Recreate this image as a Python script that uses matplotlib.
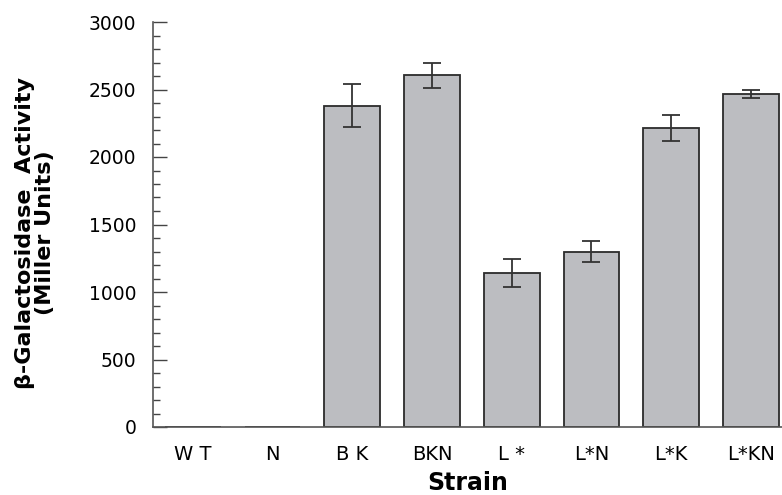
import matplotlib
matplotlib.use("Agg")
import matplotlib.pyplot as plt
from matplotlib.ticker import MultipleLocator

strains = ["W T", "N", "B K", "BKN", "L *", "L*N", "L*K", "L*KN"]
activity = [0, 0, 2380, 2605, 1140, 1300, 2215, 2465]
errors = [0, 0, 160, 95, 105, 80, 97, 28]

plt.rcParams['font.family'] = ['DejaVu Sans']

fig = plt.figure(figsize=(7.82, 4.95), dpi=100)
ax = fig.add_axes([153/782, 1 - 427/495, 1 - 153/782, (427 - 22)/495])

x = list(range(len(strains)))
ax.bar(x, activity, width=0.7, color="#bcbdc1", edgecolor="#2b2b2b", linewidth=1.3, zorder=2)
ex = [i for i, e in zip(x, errors) if e > 0]
ey = [v for v, e in zip(activity, errors) if e > 0]
ee = [e for e in errors if e > 0]
ax.errorbar(ex, ey, yerr=ee, fmt="none", ecolor="#333333", elinewidth=1.3,
            capsize=6.5, capthick=1.3, zorder=3)

ax.set_xlim(-0.5, 7.39)
ax.set_ylim(0, 3000)
ax.yaxis.set_major_locator(MultipleLocator(500))
ax.yaxis.set_minor_locator(MultipleLocator(100))
ax.set_xticks(x)
ax.set_xticklabels(strains, fontsize=14)
ax.tick_params(axis='x', length=0, pad=13)
ax.tick_params(axis='y', which='major', direction='in', length=10, width=1, labelsize=13.5, pad=12, color="#444444")
ax.tick_params(axis='y', which='minor', direction='in', length=5, width=1, color="#444444")

for s in ['top', 'right']:
    ax.spines[s].set_visible(False)
for s in ['left', 'bottom']:
    ax.spines[s].set_color("#555555")
    ax.spines[s].set_linewidth(1.2)

ax.set_xlabel("Strain", fontsize=17, fontweight='bold', labelpad=5)
fig.text(0.045, 0.53, "β-Galactosidase  Activity\n(Miller Units)", rotation=90,
         ha='center', va='center', fontsize=16, fontweight='bold', linespacing=1.0)

fig.savefig("out.png", dpi=100)
